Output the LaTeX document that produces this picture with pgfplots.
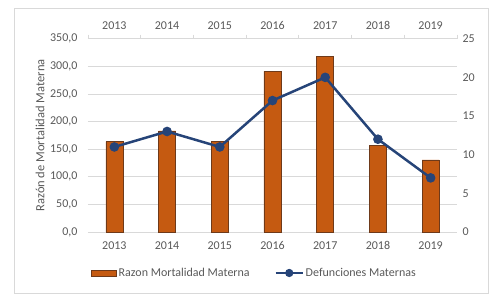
\documentclass[border=0pt]{standalone}
\usepackage{fontspec}
\setmainfont{Carlito}
\usepackage{pgfplots}
\pgfplotsset{compat=1.18}
\definecolor{barfill}{HTML}{C55A11}
\definecolor{baredge}{HTML}{6E3A1A}
\definecolor{linec}{HTML}{264478}
\definecolor{gridc}{HTML}{D9D9D9}
\definecolor{txt}{HTML}{595959}
\begin{document}
\begin{tikzpicture}
\path[use as bounding box] (-88pt,-65pt) rectangle (410pt,232pt);
\draw[gridc, line width=0.8pt] (-74pt,-61pt) rectangle (400pt,224pt);
\begin{axis}[
  at={(0pt,0pt)}, anchor=south west,
  scale only axis, width=369pt, height=193.3pt,
  xmin=-0.5, xmax=6.5, ymin=0, ymax=350,
  xtick={0,...,6},
  xticklabels={2013,2014,2015,2016,2017,2018,2019},
  ytick={0,50,...,350},
  axis line style={draw=none},
  major tick length=0pt,
  ymajorgrids, grid style={gridc, line width=0.8pt},
  axis y line*=left, axis x line*=bottom,
  /pgf/number format/.cd, fixed, fixed zerofill, precision=1, use comma, assume math mode=true,
  /pgfplots/.cd,
  tick label style={font=\fontsize{12}{14}\selectfont, text=txt},
  xticklabel style={yshift=-6pt},
  yticklabel style={xshift=-7pt},
  ylabel={Razón de Mortalidad Materna},
  ylabel style={font=\fontsize{12.5}{14}\selectfont, text=txt, at={(axis description cs:-0.130,0.5)}, anchor=center},
  ybar, bar width=17pt,
  clip=false,
]
\addplot[fill=barfill, draw=baredge, line width=0.5pt] coordinates {
(0,163.6) (1,183) (2,164) (3,291) (4,317.6) (5,157) (6,130.4)};
\end{axis}
\begin{axis}[
  at={(0pt,0pt)}, anchor=south west,
  scale only axis, width=369pt, height=193.3pt,
  xmin=-0.5, xmax=6.5, ymin=0, ymax=25,
  axis y line*=right, axis x line*=top,
  y axis line style={draw=none},
  x axis line style={gridc, line width=0.8pt},
  xtick={0,...,6},
  xticklabels={2013,2014,2015,2016,2017,2018,2019},
  extra x ticks={-0.5,0.5,...,6.5},
  extra x tick labels={},
  extra x tick style={major tick length=4pt, tick align=outside, tick style={gridc, line width=0.8pt}},
  ytick={0,5,...,25},
  major tick length=0pt,
  /pgf/number format/assume math mode=true,
  tick label style={font=\fontsize{12}{14}\selectfont, text=txt},
  xticklabel style={yshift=6pt},
  yticklabel style={xshift=2pt},
  legend columns=2,
  legend style={draw=none, fill=none, at={(0.0,-0.212)}, anchor=west,
    font=\fontsize{12}{14}\selectfont, text=txt,
    /tikz/every even column/.append style={column sep=23pt}},
  clip=false,
]
\addlegendimage{legend image code/.code={\draw[fill=barfill, draw=baredge, line width=0.5pt] (0pt,-3.2pt) rectangle (25pt,3.2pt);}}
\addlegendentry{Razon Mortalidad Materna}
\addplot[linec, line width=2.5pt, mark=*, mark size=3.5pt, mark options={fill=linec, draw=linec},
  legend image code/.code={\draw[linec, line width=2pt] (0pt,0pt) -- (27pt,0pt); \fill[linec] (13.5pt,0pt) circle (2.8pt);}] coordinates {
(0,11) (1,13) (2,11) (3,17) (4,20) (5,12) (6,7)};
\addlegendentry{Defunciones Maternas}
\end{axis}
\end{tikzpicture}
\end{document}
